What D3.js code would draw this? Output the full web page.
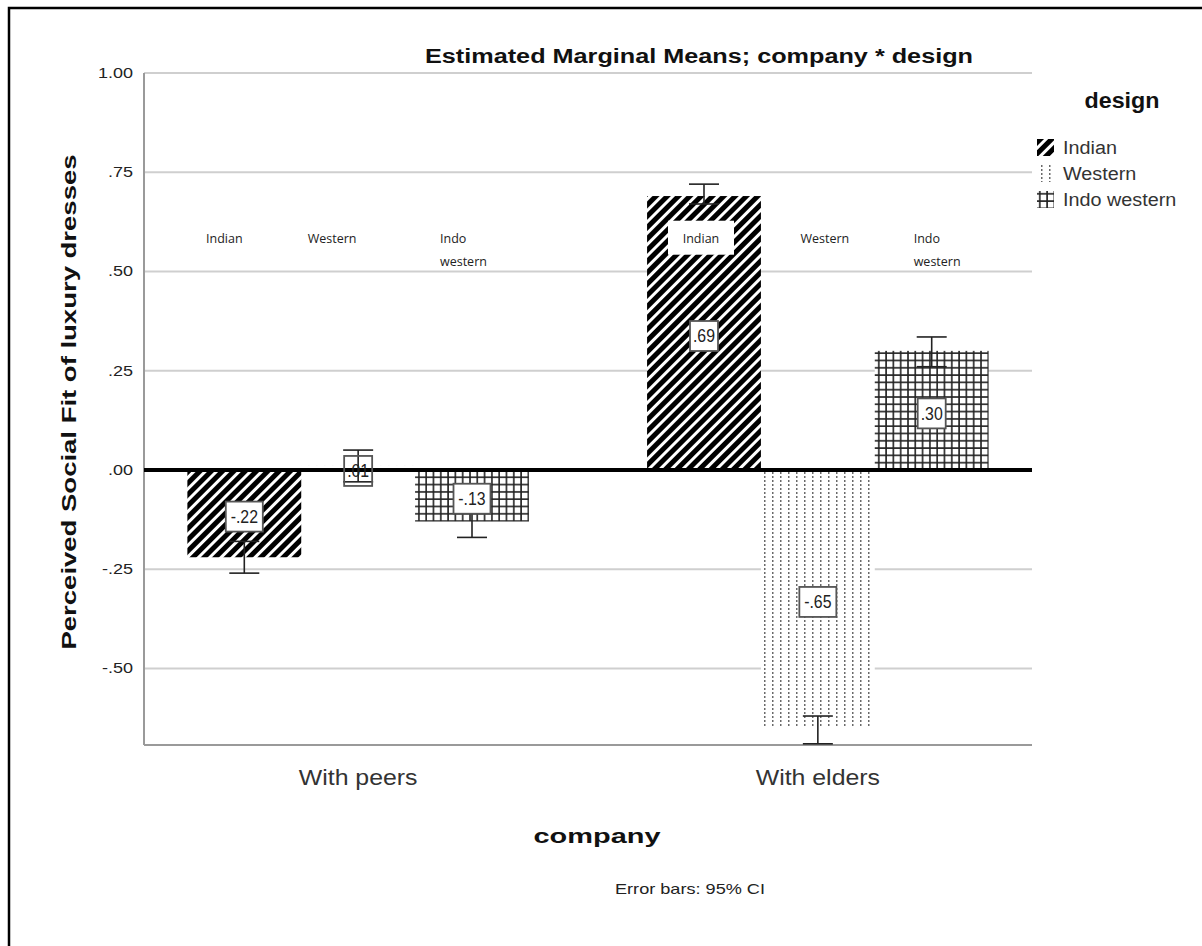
<!DOCTYPE html>
<html>
<head>
<meta charset="utf-8">
<script src="https://cdn.jsdelivr.net/npm/d3@7"></script>
<style>
  body { margin: 0; background: #fff; }
  svg { display: block; }
</style>
</head>
<body>
<svg id="chart" width="1202" height="946"></svg>
<script>
// ---- data ----
const companies = ["With peers", "With elders"];
const designs = ["Indian", "Western", "Indo western"];
const meansPeers = [-0.22, 0.01, -0.13];
const meansElders = [0.69, -0.65, 0.30];
const ciLowPeers = [-0.26, -0.03, -0.17];
const ciHighPeers = [-0.18, 0.05, -0.10];
const ciLowElders = [0.67, -0.69, 0.26];
const ciHighElders = [0.72, -0.62, 0.335];
const valueLabelsPeers = ["-.22", ".01", "-.13"];
const valueLabelsElders = [".69", "-.65", ".30"];
const yTicks = [1.0, 0.75, 0.5, 0.25, 0.0, -0.25, -0.5];
const yTickLabels = ["1.00", ".75", ".50", ".25", ".00", "-.25", "-.50"];
const annotLines = [["Indian"], ["Western"], ["Indo", "western"]];

const rows = [];
companies.forEach((c, ci) => {
  designs.forEach((d, di) => {
    const m = ci === 0 ? meansPeers : meansElders;
    const lo = ci === 0 ? ciLowPeers : ciLowElders;
    const hi = ci === 0 ? ciHighPeers : ciHighElders;
    const lb = ci === 0 ? valueLabelsPeers : valueLabelsElders;
    rows.push({company: c, design: d, ci, di, value: m[di], lo: lo[di], hi: hi[di], label: lb[di]});
  });
});

const svg = d3.select("#chart");
const FONT = "'Liberation Sans', Arial, sans-serif";
const SMALL = "'Open Sans', 'Noto Sans', sans-serif";

// stretch helpers
function stretch(sel, factor) {
  sel.each(function () {
    const w = this.getComputedTextLength();
    d3.select(this).attr("textLength", w * factor).attr("lengthAdjust", "spacingAndGlyphs");
  });
  return sel;
}
function fit(sel, width) {
  return sel.attr("textLength", width).attr("lengthAdjust", "spacingAndGlyphs");
}

// ---- patterns ----
const defs = svg.append("defs");
const pInd = defs.append("pattern").attr("id", "pIndian").attr("patternUnits", "userSpaceOnUse")
  .attr("width", 8).attr("height", 8).attr("patternTransform", "rotate(45)");
pInd.append("rect").attr("width", 8).attr("height", 8).attr("fill", "#fff");
pInd.append("rect").attr("width", 5).attr("height", 8).attr("fill", "#000");

const pWes = defs.append("pattern").attr("id", "pWestern").attr("patternUnits", "userSpaceOnUse")
  .attr("width", 8).attr("height", 4).attr("x", 1);
pWes.append("rect").attr("width", 8).attr("height", 4).attr("fill", "#fff");
pWes.append("rect").attr("x", 3).attr("y", 0).attr("width", 1.5).attr("height", 2).attr("fill", "#6a6a6a");

const pIW = defs.append("pattern").attr("id", "pIndoWestern").attr("patternUnits", "userSpaceOnUse")
  .attr("width", 7.3).attr("height", 7.3);
pIW.append("rect").attr("width", 7.3).attr("height", 7.3).attr("fill", "#fff");
pIW.append("rect").attr("x", 2).attr("y", 0).attr("width", 1.6).attr("height", 7.3).attr("fill", "#222");
pIW.append("rect").attr("x", 0).attr("y", 2).attr("width", 7.3).attr("height", 1.6).attr("fill", "#222");

const fillFor = d3.scaleOrdinal().domain(designs).range(["url(#pIndian)", "url(#pWestern)", "url(#pIndoWestern)"]);

// ---- frame ----
svg.append("rect").attr("x", 9).attr("y", 8).attr("width", 1300).attr("height", 1100)
  .attr("fill", "none").attr("stroke", "#000").attr("stroke-width", 2.5);

// ---- scales ----
const plotL = 144, plotR = 1032, plotT = 73, plotB = 745;
const y = d3.scaleLinear().domain([-0.693, 1.0]).range([plotB, plotT]);
const x0 = d3.scaleBand().domain(companies).range([146, 1030]).paddingInner(0.257).paddingOuter(0.09);
const x1 = d3.scaleBand().domain(designs).range([0, x0.bandwidth()]).padding(0);

// ---- gridlines ----
svg.append("g").selectAll("line").data(yTicks).join("line")
  .attr("x1", plotL).attr("x2", plotR)
  .attr("y1", d => y(d)).attr("y2", d => y(d))
  .attr("stroke", "#cfcfcf").attr("stroke-width", 2);

// axes lines
svg.append("line").attr("x1", plotL).attr("x2", plotL).attr("y1", plotT).attr("y2", plotB)
  .attr("stroke", "#9a9a9a").attr("stroke-width", 2);
svg.append("line").attr("x1", plotL).attr("x2", plotR).attr("y1", plotB).attr("y2", plotB)
  .attr("stroke", "#9a9a9a").attr("stroke-width", 2);

// y tick labels
stretch(svg.append("g").selectAll("text").data(yTicks).join("text")
  .attr("x", 133).attr("y", d => y(d) + 5)
  .attr("text-anchor", "end").attr("font-family", FONT).attr("font-size", 15).attr("fill", "#222")
  .text((d, i) => yTickLabels[i]), 1.2);

// ---- annotations (category labels above bars) ----
const annotShift = [[-20, -26, -32], [-3, 7, -18]];
const annot = svg.append("g");
rows.forEach(r => {
  const cx = x0(r.company) + x1(r.design) + x1.bandwidth() / 2 + annotShift[r.ci][r.di];
  const lines = annotLines[r.di];
  const anchor = lines.length > 1 ? "start" : "middle";
  if (r.ci === 1 && r.di === 0) {
    annot.append("rect").attr("x", cx - 33).attr("y", y(0.58) - 19).attr("width", 66).attr("height", 34).attr("fill", "#fff");
  }
  lines.forEach((t, k) => {
    annot.append("text").attr("x", cx).attr("y", y(0.58) + 3 + k * 23)
      .attr("text-anchor", anchor).attr("font-family", SMALL).attr("font-size", 12.5).attr("fill", "#222")
      .text(t);
  });
});

// ---- bars ----
const bars = svg.append("g");
bars.selectAll("rect").data(rows).join("rect")
  .attr("x", d => x0(d.company) + x1(d.design))
  .attr("width", x1.bandwidth())
  .attr("y", d => y(Math.max(0, d.value)))
  .attr("height", d => Math.abs(y(d.value) - y(0)))
  .attr("fill", d => fillFor(d.design));

annot.raise();

// zero line
svg.append("line").attr("x1", plotL).attr("x2", plotR).attr("y1", y(0)).attr("y2", y(0))
  .attr("stroke", "#000").attr("stroke-width", 4);

// ---- error bars ----
const eb = svg.append("g").attr("stroke", "#222").attr("stroke-width", 1.6);
rows.forEach(r => {
  const cx = x0(r.company) + x1(r.design) + x1.bandwidth() / 2;
  eb.append("line").attr("x1", cx).attr("x2", cx).attr("y1", y(r.lo)).attr("y2", y(r.hi));
  [r.lo, r.hi].forEach(v => {
    eb.append("line").attr("x1", cx - 15).attr("x2", cx + 15).attr("y1", y(v)).attr("y2", y(v));
  });
});

// ---- value labels ----
const vl = svg.append("g");
rows.forEach(r => {
  const cx = x0(r.company) + x1(r.design) + x1.bandwidth() / 2;
  const cy = (y(r.value) + y(0)) / 2 + 3;
  const w = r.label.length * 9 + 1;
  const h = 30;
  vl.append("rect").attr("x", cx - w / 2).attr("y", cy - h / 2).attr("width", w).attr("height", h)
    .attr("fill", r.ci === 0 && r.di === 1 ? "none" : "#fff").attr("stroke", "#555").attr("stroke-width", 1.8);
  const t = vl.append("text").attr("x", cx).attr("y", cy + 6.5)
    .attr("text-anchor", "middle").attr("font-family", FONT).attr("font-size", 18).attr("fill", "#222")
    .text(r.label);
  stretch(t, 0.88);
});

// ---- x category labels ----
stretch(svg.append("g").selectAll("text").data(companies).join("text")
  .attr("x", d => x0(d) + x0.bandwidth() / 2).attr("y", 785)
  .attr("text-anchor", "middle").attr("font-family", FONT).attr("font-size", 22).attr("fill", "#333")
  .text(d => d), 1.13);

// ---- titles ----
fit(svg.append("text").attr("x", 699).attr("y", 63).attr("text-anchor", "middle")
  .attr("font-family", FONT).attr("font-weight", "bold").attr("font-size", 20).attr("fill", "#111")
  .text("Estimated Marginal Means; company * design"), 548);

fit(svg.append("text").attr("x", 597).attr("y", 843).attr("text-anchor", "middle")
  .attr("font-family", FONT).attr("font-weight", "bold").attr("font-size", 21).attr("fill", "#111")
  .text("company"), 127);

fit(svg.append("text").attr("x", 690).attr("y", 894).attr("text-anchor", "middle")
  .attr("font-family", FONT).attr("font-size", 15).attr("fill", "#222")
  .text("Error bars: 95% CI"), 150);

fit(svg.append("text").attr("transform", "translate(76,402) rotate(-90)").attr("text-anchor", "middle")
  .attr("font-family", FONT).attr("font-weight", "bold").attr("font-size", 20).attr("fill", "#111")
  .text("Perceived Social Fit of luxury dresses"), 495);

// ---- legend ----
fit(svg.append("text").attr("x", 1122).attr("y", 108).attr("text-anchor", "middle")
  .attr("font-family", FONT).attr("font-weight", "bold").attr("font-size", 22).attr("fill", "#111")
  .text("design"), 75);
const leg = svg.append("g").selectAll("g").data(designs).join("g")
  .attr("transform", (d, i) => `translate(1037, ${139 + i * 26})`);
leg.append("rect").attr("width", 17).attr("height", 17).attr("fill", d => fillFor(d));
stretch(leg.append("text").attr("x", 26).attr("y", 15)
  .attr("font-family", FONT).attr("font-size", 18).attr("fill", "#333").text(d => d), 1.1);
</script>
</body>
</html>
